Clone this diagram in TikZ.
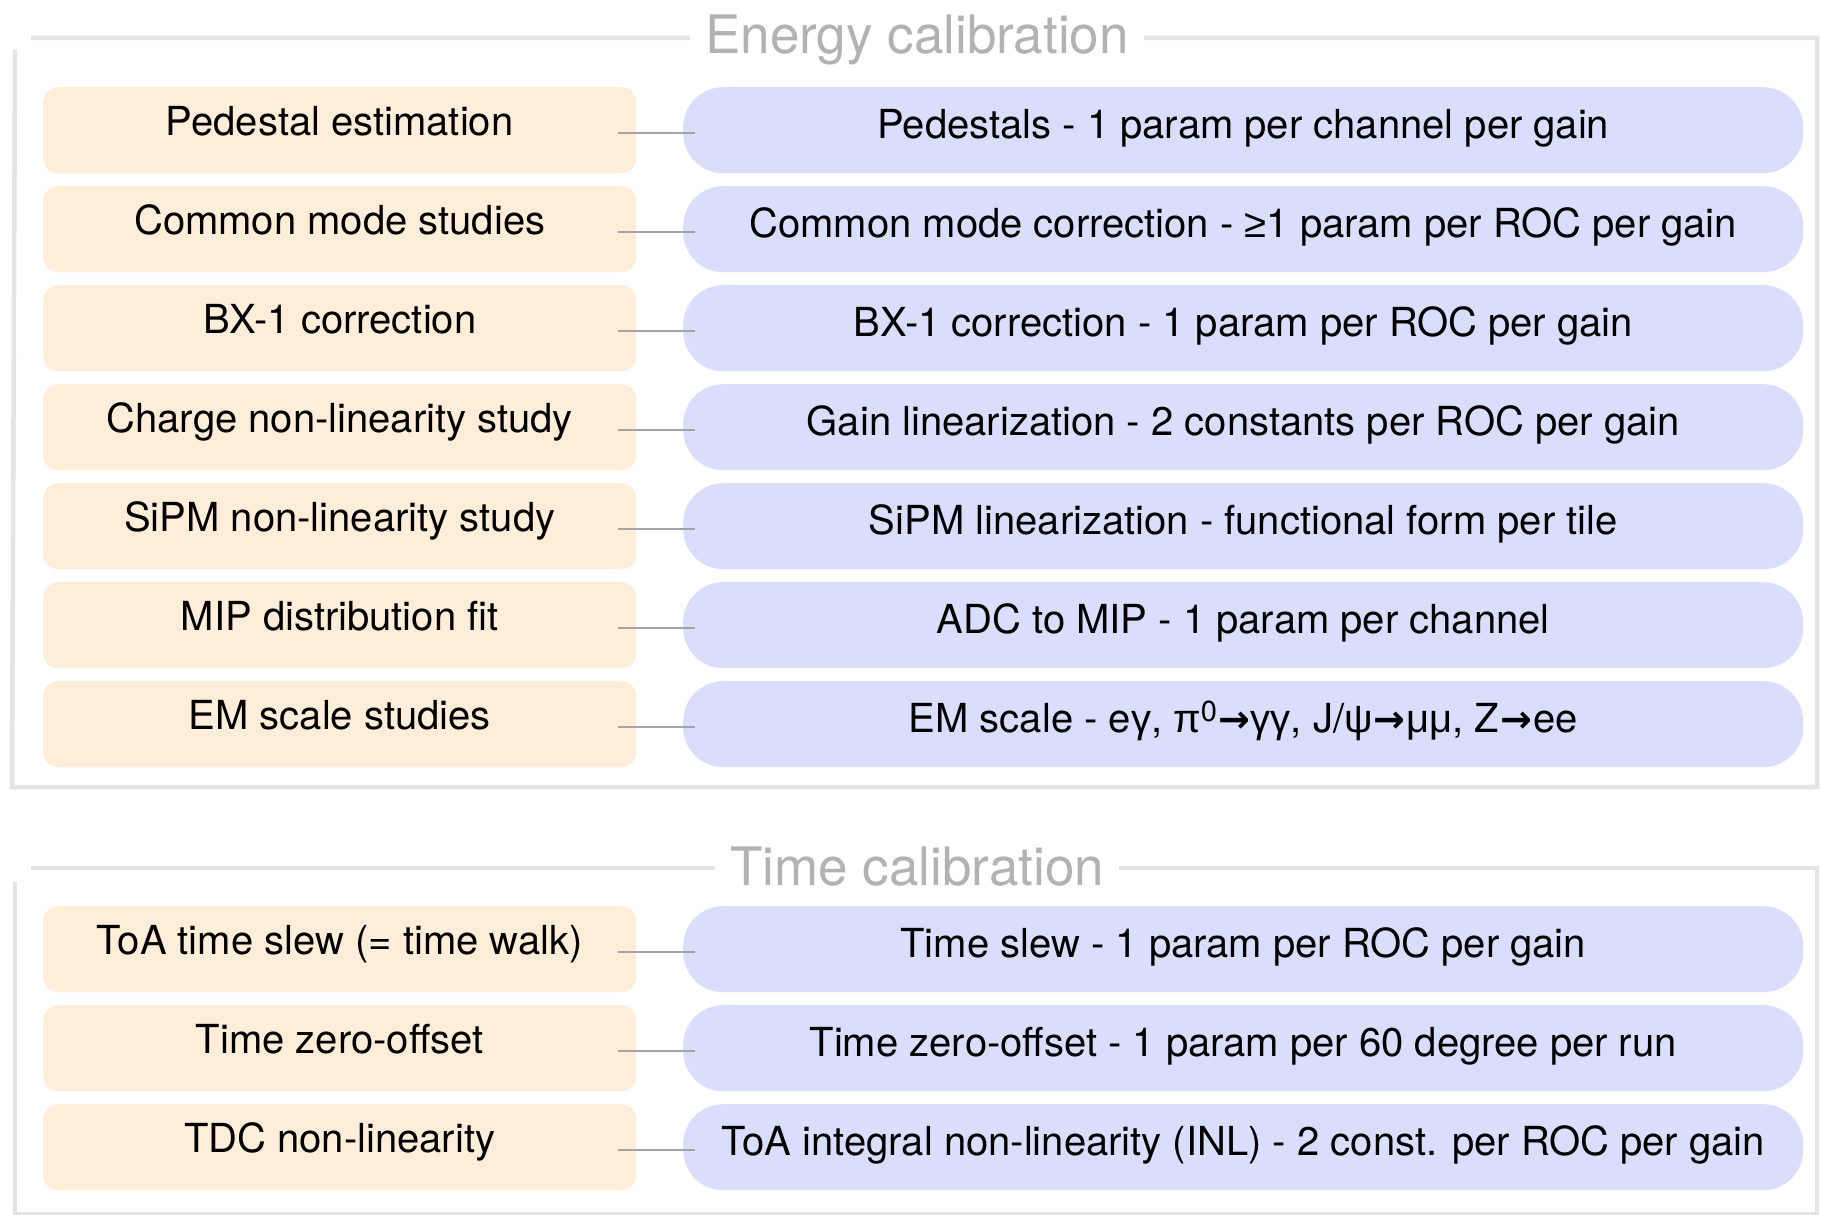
\documentclass[tikz,border=0pt]{standalone}
\usepackage{fontspec}
\setmainfont{TeX Gyre Heros}
\newfontfamily\symfont{DejaVu Sans Bold}
\newfontfamily\grkfont{Liberation Sans}
\newcommand{\toarrow}{{\symfont\fontsize{38}{44}\selectfont\kern1pt→\kern1pt}}
\newcommand{\atleast}{{\grkfont ≥}}
\definecolor{studyfill}{HTML}{FEEDD8}
\definecolor{constfill}{HTML}{D9DEFC}
\definecolor{framegray}{HTML}{E4E4E4}
\definecolor{titlegray}{HTML}{B2B2B2}
\definecolor{linkgray}{HTML}{A3A3A3}
\tikzset{
  study/.style={fill=studyfill, draw=none, rounded corners=15pt, anchor=north west,
    minimum width=593pt, minimum height=86pt, inner sep=0pt,
    text height=29pt, text depth=19pt, font=\fontsize{40}{48}\selectfont},
  constant/.style={fill=constfill, draw=none, rounded corners=40pt, anchor=north west,
    minimum width=1120pt, minimum height=86pt, inner sep=0pt,
    text height=32pt, text depth=16pt, font=\fontsize{40}{48}\selectfont},
  link/.style={draw=linkgray, line width=2.2pt},
  frameline/.style={draw=framegray, line width=4.5pt},
  sectiontitle/.style={fill=white, text=titlegray, inner xsep=15pt, inner ysep=2pt,
    anchor=base, font=\fontsize{53}{60}\selectfont}
}
\begin{document}
\begin{tikzpicture}[x=1pt,y=-1pt]
\useasboundingbox (0,0) rectangle (1821,1215);
\fill[white] (0,0) rectangle (1821,1215);

% section frames
\draw[frameline] (31,38) -- (1817,38) -- (1817,787) -- (12,787) -- (15,50);
\draw[frameline] (31,868) -- (1817,868) -- (1817,1214) -- (15,1214) -- (15,882);
\node[sectiontitle] (etitle) at (917,54) {Energy calibration};
\node[sectiontitle] (ttitle) at (917,885) {Time calibration};

% energy calibration: studies and the constants they produce
\node[study] (s1) at (43,87)  {Pedestal estimation};
\node[study] (s2) at (43,186) {Common mode studies};
\node[study] (s3) at (43,285) {BX-1 correction};
\node[study] (s4) at (43,384) {Charge non-linearity study};
\node[study] (s5) at (43,483) {SiPM non-linearity study};
\node[study] (s6) at (43,582) {MIP distribution fit};
\node[study] (s7) at (43,681) {EM scale studies};

\node[constant] (c1) at (683,87)  {Pedestals - 1 param per channel per gain};
\node[constant] (c2) at (683,186) {Common mode correction - \atleast1 param per ROC per gain};
\node[constant] (c3) at (683,285) {BX-1 correction - 1 param per ROC per gain};
\node[constant] (c4) at (683,384) {Gain linearization - 2 constants per ROC per gain};
\node[constant] (c5) at (683,483) {SiPM linearization - functional form per tile};
\node[constant] (c6) at (683,582) {ADC to MIP - 1 param per channel};
\node[constant] (c7) at (683,681) {EM scale - e{\grkfont γ}, {\grkfont π}\raisebox{11pt}{\fontsize{29}{30}\selectfont 0}\toarrow{\grkfont γγ}, J/{\grkfont ψ}\toarrow{\grkfont μμ}, Z\toarrow ee};

% time calibration
\node[study] (s8)  at (43,906)  {ToA time slew (= time walk)};
\node[study] (s9)  at (43,1005) {Time zero-offset};
\node[study] (s10) at (43,1104) {TDC non-linearity};

\node[constant] (c8)  at (683,906)  {Time slew - 1 param per ROC per gain};
\node[constant] (c9)  at (683,1005) {Time zero-offset - 1 param per 60 degree per run};
\node[constant] (c10) at (683,1104) {ToA integral non-linearity (INL) - 2 const. per ROC per gain};

% connectors
\foreach \i in {1,...,10}
  \draw[link] ([shift={(-18,3)}]s\i.east) -- ([shift={(12,3)}]c\i.west);
\end{tikzpicture}
\end{document}
